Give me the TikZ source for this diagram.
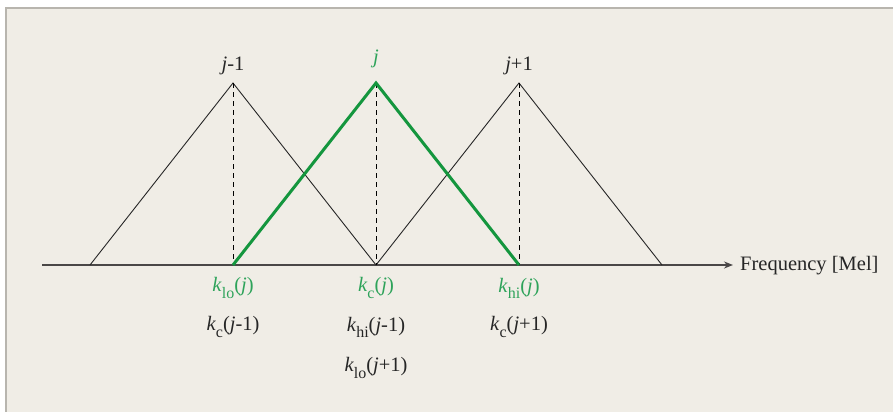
\documentclass[tikz,border=0pt]{standalone}
\usepackage{fontspec}
\setmainfont{Liberation Serif}
\usetikzlibrary{arrows.meta}
\definecolor{bgc}{HTML}{F0EDE6}
\definecolor{framec}{HTML}{B8B5AE}
\definecolor{gline}{HTML}{14963E}
\definecolor{gtext}{HTML}{2EA35A}
\definecolor{axc}{HTML}{4A4747}
\newcommand{\kk}[2]{\textit{k}\raisebox{-0.3em}{\fontsize{16}{16}\selectfont #1}(#2)}
\tikzset{
  tri/.style={black!85, line width=0.9pt},
  gtri/.style={gline, line width=3pt, line join=miter},
  drop/.style={black, dashed, dash pattern=on 5pt off 4pt, line width=0.9pt},
  lbl/.style={font=\fontsize{20.5}{24}\selectfont, inner sep=0pt, text=black!85},
  glbl/.style={lbl, text=gtext},
}
\begin{document}
\begin{tikzpicture}[x=1pt,y=-1pt]
\useasboundingbox (0,0) rectangle (894,412);
\fill[white] (0,0) rectangle (894,412);
\fill[bgc] (6,8) rectangle (893,412);
\draw[framec, line width=1.5pt] (6,412) -- (6,8) -- (893,8);
% coordinates
\coordinate (a0) at (42,265);
\coordinate (a1) at (733,265);
\coordinate (b1) at (90,265);
\coordinate (b2) at (233,265);
\coordinate (b3) at (376,265);
\coordinate (b4) at (519,265);
\coordinate (b5) at (662,265);
\coordinate (p1) at (233,83);
\coordinate (p2) at (376,83);
\coordinate (p3) at (519,83);
% axis
\draw[axc, line width=1.5pt, -{Stealth[length=9pt,width=7pt]}] (a0) -- (a1);
\node[lbl, anchor=west] (freq) at (740,266) {Frequency [Mel]};
% black triangles
\draw[tri] (b1) -- (p1) -- (b3);
\draw[tri] (b3) -- (p3) -- (b5);
% dashed drops
\draw[drop] (p1) -- (b2);
\draw[drop] (p2) -- (b3);
\draw[drop] (p3) -- (b4);
% green triangle
\draw[gtri] (b2) -- (p2) -- (b4);
% top labels
\node[lbl] (tj1) at (233,66) {\textit{j}-1};
\node[glbl] (tj) at (376,59) {\textit{j}};
\node[lbl] (tj3) at (519,66) {\textit{j}+1};
% bottom labels
\node[glbl] (l1) at (233,288) {\kk{lo}{\textit{j}}};
\node[glbl] (l2) at (376,288) {\kk{c}{\textit{j}}};
\node[glbl] (l3) at (519,288) {\kk{hi}{\textit{j}}};
\node[lbl] (m1) at (233,327) {\kk{c}{\textit{j}-1}};
\node[lbl] (m2) at (376,327) {\kk{hi}{\textit{j}-1}};
\node[lbl] (m3) at (519,327) {\kk{c}{\textit{j}+1}};
\node[lbl] (n2) at (376,368) {\kk{lo}{\textit{j}+1}};
\end{tikzpicture}
\end{document}
